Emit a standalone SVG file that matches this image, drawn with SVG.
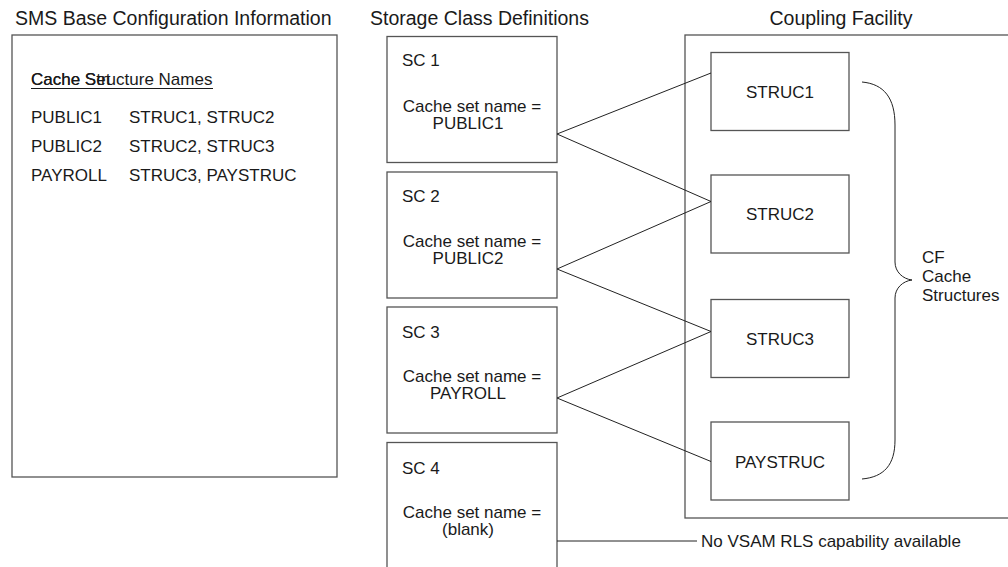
<svg xmlns="http://www.w3.org/2000/svg" width="1008" height="567" viewBox="0 0 1008 567">
<style>
text{font-family:"Liberation Sans",Arial,sans-serif;fill:#1a1a1a;font-size:17px}
.title{font-size:19.5px}
.box{fill:#fff;stroke:#555;stroke-width:1.3}
.conn{fill:none;stroke:#222;stroke-width:1}
.mid{text-anchor:middle}
</style>
<rect width="1008" height="567" fill="#fff"/>
<g id="titles">
<text class="title" x="15" y="25">SMS Base Configuration Information</text>
<text class="title" x="370" y="25">Storage Class Definitions</text>
<text class="title mid" x="841" y="25">Coupling Facility</text>
</g>
<g id="sms-base">
<rect class="box" x="12" y="35" width="325" height="442"/>
<text x="31" y="85">Cache Set</text>
<text x="31" y="85">Cache Structure Names</text>
<line x1="31" y1="88.5" x2="213" y2="88.5" stroke="#1a1a1a" stroke-width="1"/>
<text x="31" y="123">PUBLIC1</text><text x="129" y="123">STRUC1, STRUC2</text>
<text x="31" y="152">PUBLIC2</text><text x="129" y="152">STRUC2, STRUC3</text>
<text x="31" y="181">PAYROLL</text><text x="129" y="181">STRUC3, PAYSTRUC</text>
</g>
<g id="sc1">
<rect class="box" x="387" y="36.5" width="170" height="126"/>
<text x="402" y="66">SC 1</text>
<text class="mid" x="472" y="112">Cache set name =</text>
<text class="mid" x="468" y="129">PUBLIC1</text>
</g>
<g id="sc2">
<rect class="box" x="387" y="172" width="170" height="126"/>
<text x="402" y="202">SC 2</text>
<text class="mid" x="472" y="247">Cache set name =</text>
<text class="mid" x="468" y="264">PUBLIC2</text>
</g>
<g id="sc3">
<rect class="box" x="387" y="307" width="170" height="126"/>
<text x="402" y="338">SC 3</text>
<text class="mid" x="472" y="382">Cache set name =</text>
<text class="mid" x="468" y="399">PAYROLL</text>
</g>
<g id="sc4">
<rect class="box" x="387" y="442.5" width="170" height="140"/>
<text x="402" y="474">SC 4</text>
<text class="mid" x="472" y="518">Cache set name =</text>
<text class="mid" x="468" y="535">(blank)</text>
</g>
<g id="coupling-facility">
<rect class="box" x="685" y="35" width="340" height="483" fill="none"/>
</g>
<g id="struc1">
<rect class="box" x="711" y="52.5" width="138" height="78"/>
<text class="mid" x="780" y="98">STRUC1</text>
</g>
<g id="struc2">
<rect class="box" x="711" y="175" width="138" height="78"/>
<text class="mid" x="780" y="220">STRUC2</text>
</g>
<g id="struc3">
<rect class="box" x="711" y="299.5" width="138" height="78"/>
<text class="mid" x="780" y="345">STRUC3</text>
</g>
<g id="paystruc">
<rect class="box" x="711" y="422" width="138" height="78"/>
<text class="mid" x="780" y="468">PAYSTRUC</text>
</g>
<g id="cf-cache-structures">
<path class="conn" d="M862,82 C884,84 895,98 895,125 L895,262 C895,272 903,279 912,280 C903,281 895,288 895,298 L895,440 C895,465 884,477 862,479"/>
<text x="922" y="263">CF</text>
<text x="922" y="282">Cache</text>
<text x="922" y="301">Structures</text>
</g>
<g id="connectors">
<polyline class="conn" points="711,73 557,134 711,201.5"/>
<polyline class="conn" points="711,201.5 557,269 711,331.5"/>
<polyline class="conn" points="711,331.5 557,398 711,461.5"/>
<line class="conn" x1="557" y1="541" x2="697" y2="541"/>
</g>
<g id="no-vsam">
<text x="701" y="547">No VSAM RLS capability available</text>
</g>
</svg>
